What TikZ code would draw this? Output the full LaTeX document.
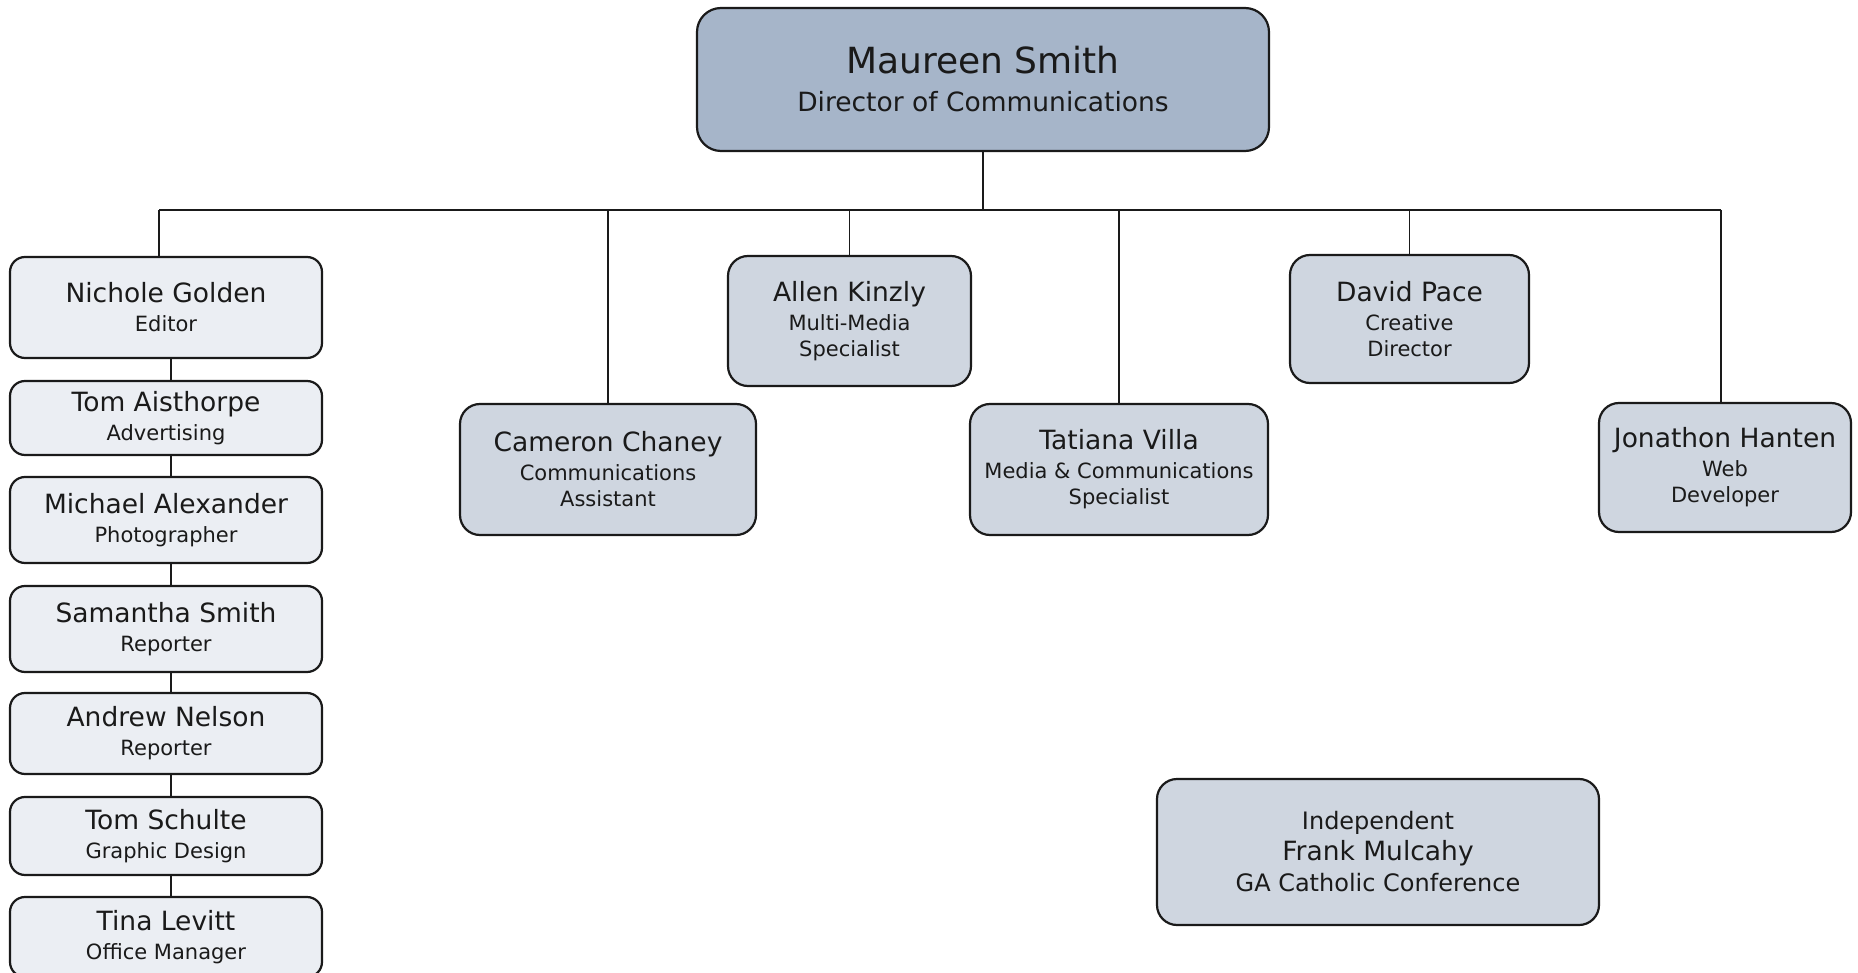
\documentclass[tikz,border=0pt]{standalone}
\usepackage{fontspec}
\setmainfont{DejaVu Sans}
\definecolor{topfill}{HTML}{A6B5C9}
\definecolor{midfill}{HTML}{CFD6E0}
\definecolor{stackfill}{HTML}{EBEEF3}
\definecolor{ink}{HTML}{1A1A1A}
\newcommand{\nm}{\fontsize{26.5}{30}\selectfont}
\newcommand{\tl}{\fontsize{21}{26}\selectfont}
\newcommand{\bg}{\fontsize{36}{40}\selectfont}
\newcommand{\ind}{\fontsize{24}{31}\selectfont}
\begin{document}
\begin{tikzpicture}[x=1pt,y=-1pt,
  box/.style={draw=ink, line width=2.2pt, align=center, inner sep=0pt, text=ink, font=\tl},
  topbox/.style={box, fill=topfill, rounded corners=24pt},
  midbox/.style={box, fill=midfill, rounded corners=20pt},
  stackbox/.style={box, fill=stackfill, rounded corners=15pt, minimum width=312pt},
  conn/.style={line width=1.8pt, draw=ink}]
\useasboundingbox (0,0) rectangle (1858,973);

% top
\node[topbox, minimum width=572pt, minimum height=143pt] (top) at (983,79.5)
  {{\bg Maureen Smith}\\[12pt]{\fontsize{26.5}{30}\selectfont Director of Communications}};

% left stack
\node[stackbox, minimum height=101pt] (nichole) at (166,307.5) {{\nm Nichole Golden}\\[3pt]Editor};
\node[stackbox, minimum height=74pt] (tomA) at (166,418) {{\nm Tom Aisthorpe}\\[3pt]Advertising};
\node[stackbox, minimum height=86pt] (michael) at (166,520) {{\nm Michael Alexander}\\[3pt]Photographer};
\node[stackbox, minimum height=86pt] (samantha) at (166,629) {{\nm Samantha Smith}\\[3pt]Reporter};
\node[stackbox, minimum height=81pt] (andrew) at (166,733.5) {{\nm Andrew Nelson}\\[3pt]Reporter};
\node[stackbox, minimum height=78pt] (tomS) at (166,836) {{\nm Tom Schulte}\\[3pt]Graphic Design};
\node[stackbox, minimum height=80pt] (tina) at (166,937) {{\nm Tina Levitt}\\[3pt]Office Manager};

% middle row
\node[midbox, minimum width=296pt, minimum height=131pt] (cameron) at (608,469.5)
  {{\nm Cameron Chaney}\\[3pt]Communications\\Assistant};
\node[midbox, minimum width=243pt, minimum height=130pt] (allen) at (849.5,321)
  {{\nm Allen Kinzly}\\[3pt]Multi-Media\\Specialist};
\node[midbox, minimum width=298pt, minimum height=131pt] (tatiana) at (1119,469.5)
  {{\nm Tatiana Villa}\\[3pt]Media \& Communications\\Specialist};
\node[midbox, minimum width=239pt, minimum height=128pt] (david) at (1409.5,319)
  {{\nm David Pace}\\[3pt]Creative\\Director};
\node[midbox, minimum width=252pt, minimum height=129pt] (jonathon) at (1725,467.5)
  {{\nm Jonathon Hanten}\\[3pt]Web\\Developer};
\node[midbox, minimum width=442pt, minimum height=146pt] (frank) at (1378,852)
  {{\ind Independent}\\[5pt]{\nm Frank Mulcahy}\\[5pt]{\ind GA Catholic Conference}};

% connectors
\coordinate (busL) at (159,210);
\coordinate (busR) at (1721,210);
\draw[conn] (top.south) -- (top.south |- busL);
\draw[conn] (busL) -- (busR);
\draw[conn] (busL) -- (busL |- nichole.north);
\draw[conn] (cameron.north |- busL) -- (cameron.north);
\draw[conn] (allen.north |- busL) -- (allen.north);
\draw[conn] (tatiana.north |- busL) -- (tatiana.north);
\draw[conn] (david.north |- busL) -- (david.north);
\draw[conn] (busR) -- (busR |- jonathon.north);
\draw[conn] ([xshift=5pt]nichole.south) -- ([xshift=5pt]tomA.north);
\draw[conn] ([xshift=5pt]tomA.south) -- ([xshift=5pt]michael.north);
\draw[conn] ([xshift=5pt]michael.south) -- ([xshift=5pt]samantha.north);
\draw[conn] ([xshift=5pt]samantha.south) -- ([xshift=5pt]andrew.north);
\draw[conn] ([xshift=5pt]andrew.south) -- ([xshift=5pt]tomS.north);
\draw[conn] ([xshift=5pt]tomS.south) -- ([xshift=5pt]tina.north);
\end{tikzpicture}
\end{document}
